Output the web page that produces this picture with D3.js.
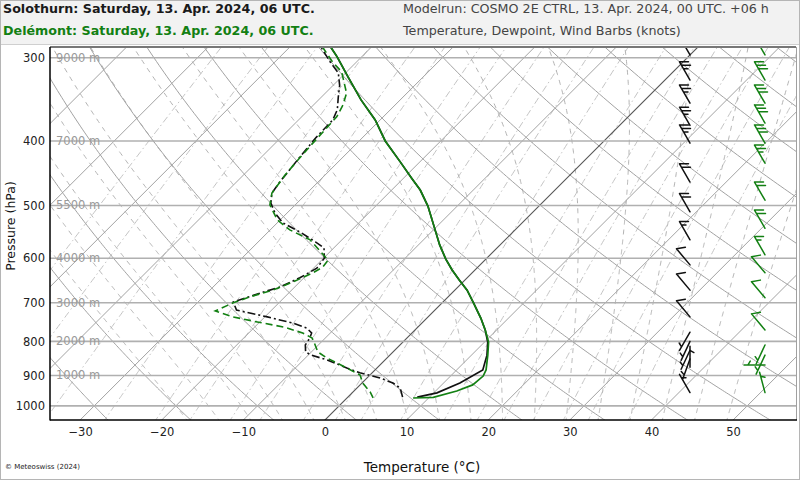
<!DOCTYPE html>
<html><head><meta charset="utf-8">
<script src="https://cdn.jsdelivr.net/npm/d3@7"></script>
<style>body{margin:0;background:#fff}svg{display:block;font-family:"DejaVu Sans",Verdana,sans-serif}</style>
</head><body><svg id="c" width="800" height="480"></svg>
<script>
// ---------------- DATA ----------------
const pressureTicks = [300, 400, 500, 600, 700, 800, 900, 1000];
const temperatureTicks = [-30, -20, -10, 0, 10, 20, 30, 40, 50];
const heightLabelP = [300, 400, 500, 600, 700, 800, 900];
const heightLabels = ["9000 m", "7000 m", "5500 m", "4000 m", "3000 m", "2000 m", "1000 m"];

// Solothurn (black)
const solTempP = [970, 956, 924, 883, 839, 802, 769, 738, 701, 670, 647, 625, 602, 573, 544, 501, 474, 455, 430, 400, 372, 347, 320, 299, 289];
const solTempT = [8.5, 10.4, 12.0, 13.2, 11.9, 10.4, 8.6, 6.6, 3.9, 1.5, -0.7, -2.8, -4.9, -7.4, -9.8, -13.6, -16.5, -19.0, -22.4, -26.8, -30.6, -34.8, -39.3, -43.0, -45.0];
const solDewP = [970, 940, 924, 908, 892, 877, 853, 839, 830, 810, 791, 777, 764, 751, 735, 718, 698, 677, 663, 642, 621, 600, 579, 567, 548, 531, 513, 496, 479, 461, 447, 423, 395, 372, 359, 344, 330, 316, 305, 290];
const solDewT = [6.7, 5.3, 3.8, 1.6, -1.5, -3.7, -7.1, -9.6, -10.7, -11.6, -11.9, -12.3, -13.5, -15.8, -19.7, -24.3, -25.7, -23.5, -21.8, -20.5, -19.6, -19.9, -21.2, -23.0, -26.1, -29.3, -31.5, -33.2, -34.3, -34.7, -34.9, -35.3, -35.7, -35.8, -36.5, -37.9, -39.2, -40.9, -43.1, -46.0];
const solWindP = [297, 324, 351, 379, 403, 461, 511, 563, 614, 670, 735, 775, 800, 825, 850, 875, 955];
const solWindSpd = [25, 25, 25, 25, 25, 20, 20, 15, 10, 10, 10, 5, 5, 5, 5, 5, 5];
const solWindDir = [330, 330, 330, 330, 330, 330, 330, 330, 320, 320, 320, 210, 205, 205, 200, 0, 330];

// Delémont (green)
const delTempP = [973, 971, 950, 930, 902, 883, 839, 802, 769, 738, 701, 670, 647, 625, 602, 573, 544, 501, 474, 455, 430, 400, 372, 347, 320, 299, 289];
const delTempT = [8.1, 10.5, 12.6, 13.8, 14.0, 13.6, 12.0, 10.5, 8.6, 6.6, 3.9, 1.5, -0.7, -2.8, -4.9, -7.4, -9.8, -13.6, -16.5, -19.0, -22.4, -26.8, -30.6, -34.8, -39.3, -43.0, -45.0];
const delDewP = [973, 953, 924, 899, 877, 847, 830, 805, 791, 777, 761, 748, 735, 720, 700, 686, 670, 651, 631, 619, 604, 563, 544, 526, 499, 479, 450, 424, 392, 368, 353, 339, 315, 304, 290];
const delDewT = [3.2, 2.1, 0.1, -1.2, -3.7, -7.4, -9.2, -10.7, -11.6, -13.4, -16.5, -20.3, -23.9, -26.8, -25.6, -24.3, -22.3, -20.8, -19.5, -19.0, -19.2, -23.9, -27.6, -30.3, -33.1, -34.3, -34.9, -35.2, -35.5, -35.7, -36.4, -37.4, -40.6, -43.0, -45.8];
const delWindP = [297, 324, 351, 376, 403, 432, 491, 541, 593, 631, 688, 769, 810, 839, 868, 955];
const delWindSpd = [30, 30, 30, 30, 30, 25, 20, 20, 15, 10, 10, 10, 5, 5, 5, 5];
const delWindDir = [330, 330, 330, 330, 330, 330, 330, 330, 330, 320, 320, 320, 205, 205, 270, 345];

// grid families
const isoTherms = d3.range(-80, 60, 10);
const dryAdiabats = d3.range(-30, 140, 10);
const moistAdiabats = d3.range(-20, 49, 4);
const mixingRatios = [0.05, 0.1, 0.2, 0.4, 0.7, 1, 1.5, 2, 3, 4, 5, 7, 10, 13, 16, 20, 25, 30, 40];

// ---------------- LAYOUT ----------------
const PL = 50, PR = 796, PT = 47, PB = 420;
const xs = d3.scaleLinear().domain([-30, 50]).range([80.1, 733.1]);
const ys = d3.scaleLog().domain([1050, 289]).range([PB, PT]);
const SKEW = 1.0;
const sx = (t, p) => xs(t) + (PB - ys(p)) * SKEW;
const GREEN = "#138013";

const svg = d3.select("#c");
svg.append("rect").attr("width", 800).attr("height", 480).attr("fill", "#fff");
svg.append("rect").attr("width", 800).attr("height", 44).attr("fill", "#f2f2f2");
svg.append("line").attr("x1", 0).attr("x2", 800).attr("y1", 44.5).attr("y2", 44.5).attr("stroke", "#cfcfcf");
svg.append("rect").attr("x", 0.5).attr("y", 0.5).attr("width", 799).attr("height", 479)
  .attr("fill", "none").attr("stroke", "#b5b5b5");

svg.append("defs").append("clipPath").attr("id", "clip")
  .append("rect").attr("x", PL).attr("y", PT).attr("width", PR - PL).attr("height", PB - PT);
const g = svg.append("g").attr("clip-path", "url(#clip)");

const pGrid = d3.range(1060, 279, -4);
const line = d3.line().x(d => sx(d[1], d[0])).y(d => ys(d[0]));

// mixing ratio lines
mixingRatios.forEach(w => {
  const pts = pGrid.map(p => {
    const e = w * p / (622 + w);
    const l = Math.log(e / 6.112);
    return [p, 243.5 * l / (17.67 - l)];
  });
  g.append("path").attr("d", line(pts)).attr("fill", "none")
    .attr("stroke", "#c4c4c4").attr("stroke-width", 1).attr("stroke-dasharray", "7,3,1.5,3");
});

// moist adiabats
const Rd = 287.04, Cp = 1005.7, Lv = 2.501e6, eps = 0.622;
const es = tc => 6.112 * Math.exp(17.67 * tc / (tc + 243.5));
function dTdp(T, p) {
  const e = es(T - 273.15), rs = eps * e / (p - e);
  return (Rd * T + Lv * rs) / (p * (Cp + Lv * Lv * rs * eps / (Rd * T * T)));
}
function integrate(tw, p0, p1, h) {
  const out = []; let T = tw + 273.15;
  for (let p = p0; h < 0 ? p >= p1 : p <= p1; p += h) {
    out.push([p, T - 273.15]);
    const k1 = dTdp(T, p), k2 = dTdp(T + h * k1, p + h);
    T += h * (k1 + k2) / 2;
  }
  return out;
}
moistAdiabats.forEach(tw => {
  const up = integrate(tw, 1000, 280, -2);
  const dn = integrate(tw, 1000, 1060, 2);
  const pts = dn.reverse().concat(up.slice(1));
  g.append("path").attr("d", line(pts)).attr("fill", "none")
    .attr("stroke", "#b3b3b3").attr("stroke-width", 1).attr("stroke-dasharray", "5,5");
});

// dry adiabats
dryAdiabats.forEach(th => {
  const pts = pGrid.map(p => [p, (th + 273.15) * Math.pow(p / 1000, 0.2857) - 273.15]);
  g.append("path").attr("d", line(pts)).attr("fill", "none")
    .attr("stroke", "#a2a2a2").attr("stroke-width", 1);
});

// isotherms
isoTherms.forEach(t => {
  g.append("path").attr("d", line([[1060, t], [280, t]])).attr("fill", "none")
    .attr("stroke", t === 0 ? "#555" : "#a2a2a2").attr("stroke-width", t === 0 ? 1.1 : 1);
});

// isobars
pressureTicks.forEach(p => {
  g.append("line").attr("x1", PL).attr("x2", PR).attr("y1", ys(p)).attr("y2", ys(p))
    .attr("stroke", "#b0b0b0").attr("stroke-width", 1.6);
});

// height labels
heightLabelP.forEach((p, i) => {
  g.append("text").attr("x", 56).attr("y", ys(p) + 4).text(heightLabels[i])
    .attr("font-size", 11.5).attr("fill", "#9a9a9a");
});

// profiles
const prof = (P, T) => P.map((p, i) => [p, T[i]]);
g.append("path").attr("d", line(prof(solDewP, solDewT))).attr("fill", "none")
  .attr("stroke", "#111").attr("stroke-width", 1.6).attr("stroke-dasharray", "8,3,2,3");
g.append("path").attr("d", line(prof(delDewP, delDewT))).attr("fill", "none")
  .attr("stroke", GREEN).attr("stroke-width", 1.6).attr("stroke-dasharray", "7,4");
g.append("path").attr("d", line(prof(solTempP, solTempT))).attr("fill", "none")
  .attr("stroke", "#111").attr("stroke-width", 1.7);
g.append("path").attr("d", line(prof(delTempP, delTempT))).attr("fill", "none")
  .attr("stroke", GREEN).attr("stroke-width", 1.7);

// wind barbs
function barb(x0, p, spd, dir, color) {
  const y0 = ys(p);
  const L = 21, F = 9, sp = 4;
  const a = dir * Math.PI / 180;
  const u = [Math.sin(a), -Math.cos(a)];
  const perp = [-u[1], u[0]];
  const fv = [perp[0] * 0.866 - u[0] * 0.5, perp[1] * 0.866 - u[1] * 0.5];
  let d = `M${x0},${y0}L${x0 + u[0] * L},${y0 + u[1] * L}`;
  const n = Math.round(spd / 5), full = Math.floor(n / 2), half = n % 2;
  let pos = L;
  for (let i = 0; i < full; i++) {
    const bx = x0 + u[0] * pos, by = y0 + u[1] * pos;
    d += `M${bx},${by}L${bx + fv[0] * F},${by + fv[1] * F}`;
    pos -= sp;
  }
  if (half) {
    if (full === 0) pos -= sp;
    const bx = x0 + u[0] * pos, by = y0 + u[1] * pos;
    d += `M${bx},${by}L${bx + fv[0] * F * 0.5},${by + fv[1] * F * 0.5}`;
  }
  g.append("path").attr("d", d).attr("fill", "none").attr("stroke", color)
    .attr("stroke-width", 1.5).attr("stroke-linecap", "round");
}
solWindP.forEach((p, i) => barb(690, p, solWindSpd[i], solWindDir[i], "#111"));
delWindP.forEach((p, i) => barb(765, p, delWindSpd[i], delWindDir[i], GREEN));

// frame
svg.append("line").attr("x1", PL).attr("x2", PR).attr("y1", PT).attr("y2", PT)
  .attr("stroke", "#777").attr("stroke-width", 2);
svg.append("line").attr("x1", PR + 0.5).attr("x2", PR + 0.5).attr("y1", PT).attr("y2", PB)
  .attr("stroke", "#a0a0a0").attr("stroke-width", 1);

// axes
const ay = svg.append("g").attr("transform", `translate(${PL},0)`)
  .call(d3.axisLeft(ys).tickValues(pressureTicks).tickFormat(d3.format("d")).tickSize(0).tickPadding(5));
ay.select(".domain").remove();
ay.selectAll("text").attr("font-size", 11.5).attr("fill", "#222").attr("font-family", "DejaVu Sans");

const ax = svg.append("g").attr("transform", `translate(0,${PB})`)
  .call(d3.axisBottom(xs).tickValues(temperatureTicks).tickFormat(d3.format("d")).tickSize(0).tickPadding(8));
ax.select(".domain").remove();
ax.selectAll("text").attr("font-size", 11.5).attr("fill", "#222").attr("font-family", "DejaVu Sans");

svg.append("line").attr("x1", PL).attr("x2", PL).attr("y1", PT).attr("y2", PB + 0.5)
  .attr("stroke", "#000").attr("stroke-width", 1.5);
svg.append("line").attr("x1", PL).attr("x2", PR + 1).attr("y1", PB).attr("y2", PB)
  .attr("stroke", "#000").attr("stroke-width", 1.5);

// labels
svg.append("text").attr("x", 422).attr("y", 472).attr("text-anchor", "middle")
  .attr("font-size", 13.5).attr("fill", "#111").text("Temperature (°C)");
svg.append("text").attr("transform", "translate(15,226) rotate(-90)").attr("text-anchor", "middle")
  .attr("font-size", 12.5).attr("fill", "#111").text("Pressure (hPa)");
svg.append("text").attr("x", 5).attr("y", 469).attr("font-size", 7).attr("fill", "#222")
  .text("© Meteoswiss (2024)");

// titles
svg.append("text").attr("x", 3).attr("y", 13).attr("font-size", 12.7).attr("font-weight", "bold")
  .attr("fill", "#1a1a1a").text("Solothurn: Saturday, 13. Apr. 2024, 06 UTC.");
svg.append("text").attr("x", 3).attr("y", 35).attr("font-size", 12.7).attr("font-weight", "bold")
  .attr("fill", GREEN).text("Delémont: Saturday, 13. Apr. 2024, 06 UTC.");
svg.append("text").attr("x", 403).attr("y", 13).attr("font-size", 12.7)
  .attr("fill", "#444").text("Modelrun: COSMO 2E CTRL, 13. Apr. 2024, 00 UTC. +06 h");
svg.append("text").attr("x", 403).attr("y", 35).attr("font-size", 12.7)
  .attr("fill", "#444").text("Temperature, Dewpoint, Wind Barbs (knots)");
</script></body></html>
